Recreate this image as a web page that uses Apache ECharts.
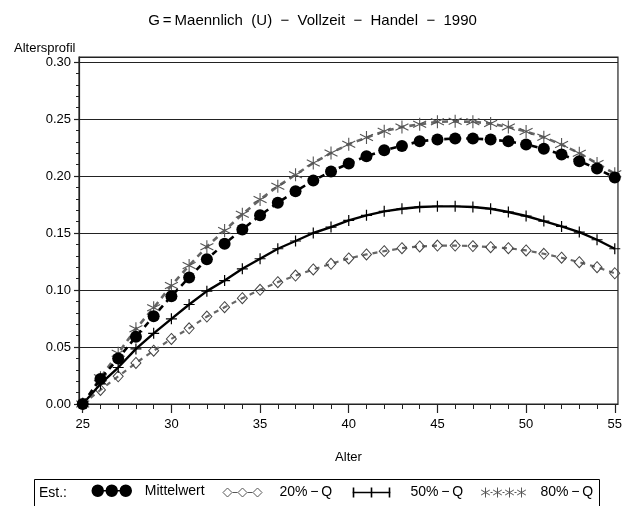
<!DOCTYPE html>
<html>
<head>
<meta charset="utf-8">
<script src="https://cdn.jsdelivr.net/npm/echarts@6/dist/echarts.min.js"></script>
<style>html,body{margin:0;padding:0;background:#fff}#c{width:625px;height:506px}</style>
</head>
<body>
<div id="c"></div>
<script>
var ages = [25,26,27,28,29,30,31,32,33,34,35,36,37,38,39,40,41,42,43,44,45,46,47,48,49,50,51,52,53,54,55];
var mittelwert = [0.000,0.022,0.040,0.059,0.077,0.0946,0.111,0.127,0.1406,0.153,0.1655,0.1766,0.1866,0.196,0.204,0.211,0.2173,0.2226,0.2264,0.2305,0.232,0.2329,0.2329,0.232,0.2305,0.2276,0.224,0.2188,0.213,0.2065,0.1986];
var q20 = [0.000,0.0123,0.0243,0.036,0.0468,0.0571,0.0664,0.0767,0.0849,0.0928,0.1002,0.1069,0.1127,0.118,0.123,0.1277,0.1312,0.1341,0.1367,0.1382,0.139,0.139,0.1385,0.1376,0.1367,0.1347,0.1318,0.1283,0.1244,0.12,0.1147];
var q50 = [0.000,0.0176,0.032,0.0483,0.062,0.0747,0.0873,0.099,0.1083,0.1186,0.1274,0.1362,0.143,0.150,0.1552,0.161,0.1655,0.169,0.1713,0.1728,0.1734,0.1734,0.1728,0.1713,0.1684,0.1649,0.1605,0.1558,0.1508,0.1441,0.1362];
var q80 = [0.000,0.023,0.0445,0.066,0.0844,0.104,0.1215,0.138,0.1523,0.1664,0.1793,0.191,0.2012,0.2114,0.2202,0.2279,0.2337,0.2393,0.243,0.2454,0.2475,0.248,0.2475,0.246,0.243,0.239,0.234,0.2276,0.220,0.211,0.202];
var xTickLabels = [25,30,35,40,45,50,55];
var yMinorTicks = [0,0.01,0.02,0.03,0.04,0.05,0.06,0.07,0.08,0.09,0.10,0.11,0.12,0.13,0.14,0.15,0.16,0.17,0.18,0.19,0.20,0.21,0.22,0.23,0.24,0.25,0.26,0.27,0.28,0.29,0.30];
var seriesNames = ['Mittelwert','20%\u2009\u2212\u2009Q','50%\u2009\u2212\u2009Q','80%\u2009\u2212\u2009Q'];
var titleText = 'G\u2009=\u2009Maennlich  (U)  \u2212  Vollzeit  \u2212  Handel  \u2212  1990';

function pairs(vals){ return ages.map(function(a,i){ return [a, vals[i]]; }); }

var FONT = '"Liberation Sans", Arial, Helvetica, sans-serif';
var plusSym = 'path://M0,-5L0,5M-5,0L5,0';
var starSym = 'path://M0,-6.5L0,6.5M-5.6,-3.25L5.6,3.25M-5.6,3.25L5.6,-3.25';

function circ(cx, r){ return 'M'+(cx-r)+',0A'+r+','+r+',0,1,0,'+(cx+r)+',0A'+r+','+r+',0,1,0,'+(cx-r)+',0Z'; }
function diam(cx, r){ return 'M'+cx+','+(-r)+'L'+(cx+r)+',0L'+cx+','+r+'L'+(cx-r)+',0Z'; }
function star(cx, r){ var a=r*0.866, b=r*0.5; return 'M'+cx+','+(-r)+'L'+cx+','+r+'M'+(cx-a)+','+(-b)+'L'+(cx+a)+','+b+'M'+(cx-a)+','+b+'L'+(cx+a)+','+(-b); }
var pad = function(w){ return 'M0,-7M'+w+',7'; };
var iconMittel = 'path://' + pad(48) + circ(6,5.5) + 'M11,0L15,0' + circ(20,5.5) + 'M25,0L29,0' + circ(34,5.5);
var iconQ20 = 'path://' + pad(52) + diam(5,4.5) + 'M10,0L15,0' + diam(20,4.5) + 'M25,0L30,0' + diam(35,4.5);
var iconQ50 = 'path://' + pad(53) + 'M0,0L38,0M1,-5L1,5M19,-5L19,5M37,-5L37,5';
var iconQ80 = 'path://' + pad(55) + star(5,5) + 'M10,0L12,0' + star(17,5) + 'M22,0L24,0' + star(29,5) + 'M34,0L36,0' + star(41,5);

function lg(name, left, w, icon, style){
  return {
    data:[name], left:left, top:483, orient:'horizontal', padding:0,
    itemWidth:w, itemHeight:14, icon:icon, selectedMode:false,
    itemStyle:style,
    textStyle:{fontFamily:FONT, fontSize:14, color:'#000'}
  };
}

var chart = echarts.init(document.getElementById('c'), null, {renderer:'canvas'});
chart.setOption({
  animation:false,
  backgroundColor:'#fff',
  textStyle:{fontFamily:FONT},
  title:[
    {text:titleText, left:'center', top:8, textStyle:{fontFamily:FONT, fontSize:15, fontWeight:'normal', color:'#000'}},
    {text:'Altersprofil', left:9, top:37, textStyle:{fontFamily:FONT, fontSize:13, fontWeight:'normal', color:'#000'}}
  ],
  graphic:[
    {type:'rect', left:32, top:477, shape:{width:565, height:40}, style:{fill:'none', stroke:'#000', lineWidth:1}, z:0},
    {type:'text', left:39, top:486, style:{text:'Est.:', fontFamily:FONT, fontSize:14, fill:'#000'}}
  ],
  legend:[
    lg(seriesNames[0], 91, 48, iconMittel, {color:'#000', borderColor:'#000', borderWidth:1.5}),
    lg(seriesNames[1], 220, 52, iconQ20, {color:'none', borderColor:'#555', borderWidth:1}),
    lg(seriesNames[2], 350, 53, iconQ50, {color:'none', borderColor:'#000', borderWidth:1.6}),
    lg(seriesNames[3], 478, 55, iconQ80, {color:'none', borderColor:'#555', borderWidth:1})
  ],
  grid:{left:79, right:5, top:57, bottom:102, show:true, borderColor:'#222', borderWidth:1.2, backgroundColor:'#fff'},
  xAxis:[
    {type:'value', min:24.79, max:55.18, position:'bottom',
     name:'Alter', nameLocation:'middle', nameGap:47,
     nameTextStyle:{fontFamily:FONT, fontSize:13, color:'#000'},
     axisLine:{show:true, lineStyle:{color:'#222', width:1.2}},
     axisTick:{show:true, inside:false, length:9, customValues:xTickLabels, lineStyle:{color:'#222', width:1.2}},
     axisLabel:{customValues:xTickLabels, margin:14, fontFamily:FONT, fontSize:13, color:'#000'},
     splitLine:{show:false}},
    {type:'value', min:24.79, max:55.18, position:'bottom',
     axisLine:{show:false},
     axisTick:{show:true, inside:false, length:5, customValues:ages, lineStyle:{color:'#222', width:1}},
     axisLabel:{show:false}, splitLine:{show:false}}
  ],
  yAxis:[
    {type:'value', min:0, max:0.3044, interval:0.05, position:'left',
     axisLine:{show:true, lineStyle:{color:'#222', width:1.2}},
     axisTick:{show:true, length:5, lineStyle:{color:'#222', width:1.2}},
     axisLabel:{showMaxLabel:false, margin:8, fontFamily:FONT, fontSize:13, color:'#000',
       formatter:function(v){ return v.toFixed(2); }},
     splitLine:{show:true, lineStyle:{color:'#222', width:1.2}}},
    {type:'value', min:0, max:0.3044, position:'left',
     axisLine:{show:false},
     axisTick:{show:true, length:3, customValues:yMinorTicks, lineStyle:{color:'#222', width:1}},
     axisLabel:{show:false}, splitLine:{show:false}}
  ],
  series:[
    {name:seriesNames[2], type:'line', data:pairs(q50), symbol:plusSym, symbolSize:11,
     lineStyle:{color:'#000', width:2.4, type:'solid'},
     itemStyle:{color:'none', borderColor:'#000', borderWidth:1.2}, z:3},
    {name:seriesNames[1], type:'line', data:pairs(q20), symbol:'diamond', symbolSize:[10,11],
     lineStyle:{color:'#666', width:2.2, type:[5,5]},
     itemStyle:{color:'rgba(255,255,255,0)', borderColor:'#444', borderWidth:1}, z:2},
    {name:seriesNames[3], type:'line', data:pairs(q80), symbol:starSym, symbolSize:13,
     lineStyle:{color:'#666', width:2.6, type:[6,5]},
     itemStyle:{color:'none', borderColor:'#555', borderWidth:1.1}, z:4},
    {name:seriesNames[0], type:'line', data:pairs(mittelwert), symbol:'circle', symbolSize:12,
     lineStyle:{color:'#000', width:2.6, type:[6,5]},
     itemStyle:{color:'#000', borderColor:'#000', borderWidth:0}, z:5}
  ]
});
</script>
</body>
</html>
